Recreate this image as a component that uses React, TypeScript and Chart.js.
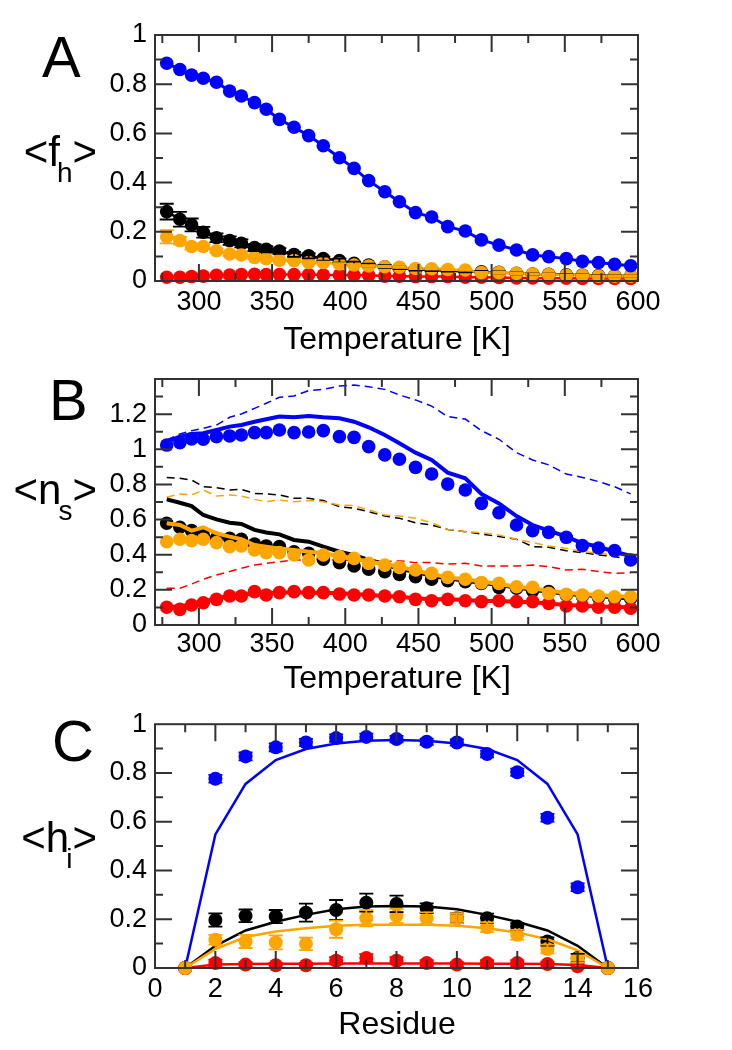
import React, { useEffect, useRef } from 'react';
import { Chart, registerables } from 'chart.js';

Chart.register(...registerables);

// ---------------- DATA ----------------
const TEMPS = [278, 287, 295, 303, 312, 321, 329, 338, 346, 355, 365, 375, 385, 396, 406, 416, 427, 437, 448, 459, 470, 482, 493, 505, 517, 528, 539, 551, 562, 573, 584, 595];

// Panel A: <f_h>
const A_BLUE = [0.885, 0.860, 0.837, 0.824, 0.808, 0.772, 0.752, 0.725, 0.698, 0.657, 0.625, 0.591, 0.550, 0.501, 0.458, 0.408, 0.363, 0.322, 0.278, 0.260, 0.221, 0.203, 0.167, 0.146, 0.126, 0.106, 0.099, 0.091, 0.080, 0.075, 0.068, 0.062];
const A_BLACK = [0.282, 0.251, 0.228, 0.198, 0.176, 0.164, 0.153, 0.136, 0.129, 0.122, 0.108, 0.102, 0.091, 0.083, 0.072, 0.065, 0.058, 0.053, 0.047, 0.045, 0.042, 0.039, 0.037, 0.035, 0.031, 0.028, 0.027, 0.025, 0.024, 0.022, 0.021, 0.020];
const A_BLACK_ERR = [0.032, 0.030, 0.026, 0.022, 0.018, 0.017, 0.016, 0.014, 0.013, 0.012, 0.010, 0.010, 0.008, 0.008, 0.007, 0.006, 0.006, 0.005, 0.005, 0.005, 0.004, 0.004, 0.004, 0.004, 0.004, 0.004, 0.003, 0.003, 0.003, 0.003, 0.003, 0.003];
const A_ORANGE = [0.180, 0.164, 0.140, 0.140, 0.123, 0.110, 0.106, 0.096, 0.091, 0.085, 0.083, 0.075, 0.075, 0.069, 0.065, 0.061, 0.058, 0.056, 0.051, 0.050, 0.047, 0.045, 0.034, 0.034, 0.031, 0.028, 0.026, 0.023, 0.023, 0.020, 0.020, 0.020];
const A_ORANGE_ERR = [0.027, 0.015, 0.012, 0.010, 0.008, 0.007, 0.006, 0.006, 0.005, 0.005, 0.005, 0.004, 0.004, 0.004, 0.004, 0.003, 0.003, 0.003, 0.003, 0.003, 0.003, 0.003, 0.003, 0.003, 0.003, 0.003, 0.003, 0.003, 0.003, 0.003, 0.003, 0.003];
const A_RED = [0.015, 0.015, 0.018, 0.020, 0.023, 0.024, 0.026, 0.027, 0.026, 0.026, 0.026, 0.026, 0.024, 0.024, 0.023, 0.023, 0.020, 0.020, 0.018, 0.018, 0.018, 0.015, 0.015, 0.014, 0.012, 0.012, 0.011, 0.011, 0.010, 0.010, 0.010, 0.010];

// Panel B: <n_s>
const B_BLUE_PTS = [1.024, 1.038, 1.059, 1.057, 1.072, 1.076, 1.081, 1.095, 1.095, 1.110, 1.095, 1.098, 1.106, 1.072, 1.068, 1.015, 0.968, 0.943, 0.897, 0.859, 0.802, 0.768, 0.692, 0.639, 0.569, 0.537, 0.527, 0.499, 0.452, 0.438, 0.423, 0.370];
const B_BLUE_SOLID = [1.043, 1.072, 1.087, 1.091, 1.110, 1.129, 1.138, 1.157, 1.171, 1.186, 1.182, 1.190, 1.182, 1.176, 1.157, 1.125, 1.081, 1.034, 0.981, 0.939, 0.867, 0.835, 0.746, 0.692, 0.620, 0.569, 0.537, 0.503, 0.465, 0.446, 0.417, 0.393];
const B_BLUE_DASH = [1.053, 1.087, 1.106, 1.119, 1.138, 1.182, 1.201, 1.233, 1.262, 1.296, 1.303, 1.334, 1.341, 1.360, 1.366, 1.356, 1.341, 1.309, 1.281, 1.246, 1.186, 1.172, 1.106, 1.057, 0.981, 0.939, 0.911, 0.859, 0.840, 0.816, 0.787, 0.746];
const B_BLACK_PTS = [0.579, 0.556, 0.537, 0.512, 0.493, 0.493, 0.488, 0.461, 0.450, 0.446, 0.417, 0.408, 0.374, 0.355, 0.336, 0.317, 0.304, 0.288, 0.275, 0.260, 0.252, 0.247, 0.237, 0.214, 0.209, 0.195, 0.190, 0.171, 0.165, 0.157, 0.152, 0.152];
const B_BLACK_SOLID = [0.715, 0.696, 0.677, 0.626, 0.601, 0.582, 0.575, 0.541, 0.526, 0.516, 0.484, 0.474, 0.446, 0.417, 0.398, 0.370, 0.347, 0.317, 0.304, 0.279, 0.266, 0.252, 0.241, 0.228, 0.214, 0.199, 0.190, 0.176, 0.171, 0.165, 0.157, 0.152];
const B_BLACK_DASH = [0.840, 0.835, 0.825, 0.787, 0.782, 0.768, 0.772, 0.749, 0.746, 0.740, 0.721, 0.721, 0.708, 0.673, 0.664, 0.645, 0.620, 0.607, 0.582, 0.569, 0.544, 0.531, 0.518, 0.503, 0.488, 0.446, 0.442, 0.423, 0.412, 0.398, 0.389, 0.374];
const B_ORANGE_PTS = [0.474, 0.488, 0.480, 0.488, 0.469, 0.446, 0.450, 0.427, 0.412, 0.412, 0.398, 0.370, 0.398, 0.389, 0.379, 0.351, 0.341, 0.328, 0.313, 0.294, 0.271, 0.260, 0.241, 0.237, 0.218, 0.214, 0.180, 0.175, 0.171, 0.165, 0.161, 0.161];
const B_ORANGE_SOLID = [0.579, 0.569, 0.537, 0.556, 0.522, 0.503, 0.488, 0.455, 0.446, 0.436, 0.427, 0.417, 0.408, 0.393, 0.379, 0.360, 0.347, 0.332, 0.309, 0.290, 0.271, 0.260, 0.247, 0.233, 0.218, 0.209, 0.195, 0.184, 0.176, 0.171, 0.165, 0.161];
const B_ORANGE_DASH = [0.727, 0.746, 0.740, 0.768, 0.734, 0.740, 0.734, 0.715, 0.702, 0.711, 0.702, 0.708, 0.702, 0.683, 0.679, 0.655, 0.626, 0.620, 0.607, 0.582, 0.544, 0.531, 0.526, 0.512, 0.488, 0.469, 0.450, 0.436, 0.417, 0.408, 0.398, 0.385];
const B_RED_PTS = [0.101, 0.089, 0.114, 0.127, 0.146, 0.165, 0.165, 0.190, 0.171, 0.184, 0.190, 0.184, 0.184, 0.176, 0.171, 0.171, 0.165, 0.161, 0.146, 0.138, 0.146, 0.138, 0.133, 0.138, 0.133, 0.133, 0.123, 0.108, 0.108, 0.101, 0.101, 0.095];
const B_RED_SOLID = [0.104, 0.104, 0.120, 0.133, 0.152, 0.165, 0.171, 0.180, 0.180, 0.184, 0.186, 0.184, 0.184, 0.180, 0.176, 0.171, 0.165, 0.161, 0.152, 0.146, 0.146, 0.142, 0.137, 0.137, 0.133, 0.129, 0.123, 0.114, 0.110, 0.104, 0.104, 0.099];
const B_RED_DASH = [0.209, 0.209, 0.233, 0.260, 0.285, 0.304, 0.323, 0.341, 0.351, 0.360, 0.370, 0.370, 0.370, 0.370, 0.366, 0.360, 0.360, 0.366, 0.355, 0.355, 0.347, 0.351, 0.336, 0.336, 0.336, 0.341, 0.332, 0.313, 0.317, 0.304, 0.294, 0.298];

// Panel C: <h_i>
const RESIDUES = [1, 2, 3, 4, 5, 6, 7, 8, 9, 10, 11, 12, 13, 14, 15];
const C_BLUE_PTS = [0, 0.776, 0.868, 0.905, 0.925, 0.943, 0.948, 0.939, 0.928, 0.925, 0.878, 0.803, 0.616, 0.331, 0];
const C_BLUE_ERR = [0, 0.016, 0.016, 0.016, 0.015, 0.015, 0.013, 0.013, 0.013, 0.013, 0.014, 0.015, 0.016, 0.016, 0];
const C_BLUE_LINE = [0, 0.548, 0.755, 0.853, 0.898, 0.921, 0.932, 0.935, 0.932, 0.921, 0.898, 0.853, 0.755, 0.548, 0];
const C_BLACK_PTS = [0, 0.197, 0.214, 0.211, 0.227, 0.238, 0.268, 0.263, 0.245, 0.204, 0.204, 0.170, 0.109, 0.041, 0];
const C_BLACK_ERR = [0, 0.027, 0.026, 0.027, 0.037, 0.041, 0.037, 0.034, 0.020, 0.020, 0.019, 0.014, 0.017, 0.017, 0];
const C_BLACK_LINE = [0, 0.091, 0.154, 0.190, 0.218, 0.241, 0.252, 0.254, 0.252, 0.241, 0.218, 0.190, 0.154, 0.091, 0];
const C_ORANGE_PTS = [0, 0.116, 0.109, 0.105, 0.099, 0.159, 0.204, 0.214, 0.204, 0.204, 0.167, 0.136, 0.078, 0.037, 0];
const C_ORANGE_ERR = [0, 0.020, 0.027, 0.029, 0.026, 0.035, 0.033, 0.029, 0.024, 0.020, 0.020, 0.020, 0.018, 0.014, 0];
const C_ORANGE_LINE = [0, 0.078, 0.127, 0.150, 0.163, 0.173, 0.177, 0.177, 0.177, 0.173, 0.163, 0.146, 0.118, 0.072, 0];
const C_RED_PTS = [0, 0.020, 0.014, 0.011, 0.011, 0.030, 0.041, 0.030, 0.020, 0.014, 0.020, 0.020, 0.016, 0.007, 0];
const C_RED_ERR = [0, 0.014, 0.010, 0.010, 0.010, 0.015, 0.016, 0.014, 0.012, 0.010, 0.012, 0.012, 0.010, 0.008, 0];
const C_RED_LINE = [0, 0.014, 0.016, 0.017, 0.017, 0.018, 0.018, 0.018, 0.018, 0.018, 0.017, 0.017, 0.016, 0.012, 0];

// Tick labels
const X_TICKS_T = [300, 350, 400, 450, 500, 550, 600];
const X_TICKS_RES = [0, 2, 4, 6, 8, 10, 12, 14, 16];
const Y_TICKS_1 = [0, 0.2, 0.4, 0.6, 0.8, 1];
const Y_TICKS_B = [0, 0.2, 0.4, 0.6, 0.8, 1, 1.2];

// ---------------- STYLE ----------------
const FONT = '"Liberation Sans", Arial, Helvetica, sans-serif';
const BLUE = '#0000ff';
const BLACK = '#000000';
const ORANGE = '#ffa500';
const RED = '#ff0000';
const FRAME = '#333333';

const pts = (xs: number[], ys: number[]) => xs.map((x, i) => ({ x, y: ys[i] }));

const dots = (xs: number[], ys: number[], color: string, r: number, lineW = 0, errors?: number[]) => ({
  data: pts(xs, ys),
  showLine: lineW > 0,
  borderColor: color,
  borderWidth: lineW,
  backgroundColor: color,
  pointBackgroundColor: color,
  pointBorderColor: color,
  pointBorderWidth: 0,
  pointRadius: r,
  pointHoverRadius: r,
  tension: 0,
  clip: false,
  errors,
  errorColor: color,
});

const line = (xs: number[], ys: number[], color: string, w: number, dash?: number[]) => ({
  data: pts(xs, ys),
  showLine: true,
  borderColor: color,
  backgroundColor: color,
  borderWidth: w,
  borderDash: dash || [],
  pointRadius: 0,
  pointHoverRadius: 0,
  tension: 0,
  clip: false,
});

const framePlugin = {
  id: 'frame',
  afterDatasetsDraw(chart: any, _args: any, opts: any) {
    const { ctx, chartArea, scales } = chart;
    const { left, right, top, bottom } = chartArea;
    const x = scales.x;
    const y = scales.y;
    // error bars
    chart.data.datasets.forEach((ds: any) => {
      if (!ds.errors) return;
      ctx.save();
      ctx.strokeStyle = ds.errorColor;
      ctx.lineWidth = 1.8;
      const cap = opts.cap || 7;
      ds.data.forEach((p: any, j: number) => {
        const e = ds.errors[j];
        if (!e) return;
        const px = x.getPixelForValue(p.x);
        const y1 = y.getPixelForValue(p.y + e);
        const y2 = y.getPixelForValue(p.y - e);
        ctx.beginPath();
        ctx.moveTo(px, y1); ctx.lineTo(px, y2);
        ctx.moveTo(px - cap, y1); ctx.lineTo(px + cap, y1);
        ctx.moveTo(px - cap, y2); ctx.lineTo(px + cap, y2);
        ctx.stroke();
      });
      ctx.restore();
    });
    // ticks (inward, mirrored)
    ctx.save();
    ctx.strokeStyle = FRAME;
    ctx.lineWidth = 2;
    ctx.beginPath();
    const drawAxisTicks = (scale: any, minor: number, major: number, horizontal: boolean) => {
      const start = Math.ceil(scale.min / minor - 1e-9);
      const end = Math.floor(scale.max / minor + 1e-9);
      for (let n = start; n <= end; n++) {
        const v = n * minor;
        const isMajor = Math.abs(v / major - Math.round(v / major)) < 1e-6;
        const len = isMajor ? 17 : 8;
        const p = scale.getPixelForValue(v);
        if (horizontal) {
          if (p < left + 1 || p > right - 1) continue;
          ctx.moveTo(p, bottom); ctx.lineTo(p, bottom - len);
          ctx.moveTo(p, top); ctx.lineTo(p, top + len);
        } else {
          if (p < top + 1 || p > bottom - 1) continue;
          ctx.moveTo(left, p); ctx.lineTo(left + len, p);
          ctx.moveTo(right, p); ctx.lineTo(right - len, p);
        }
      }
    };
    drawAxisTicks(x, opts.xMinor, opts.xMajor, true);
    drawAxisTicks(y, opts.yMinor, opts.yMajor, false);
    ctx.stroke();
    ctx.strokeRect(left, top, right - left, bottom - top);
    ctx.restore();
  },
};

type PanelSpec = {
  datasets: any[];
  xMin: number; xMax: number; xTicks: number[];
  yMin: number; yMax: number; yTicks: number[];
  padTop: number; xHeight: number; xPad: number;
  xMinor: number; xMajor: number; yMinor: number; yMajor: number;
};

const makeConfig = (s: PanelSpec): any => {
  const n = s.datasets.length;
  const datasets = s.datasets.map((d, i) => ({ ...d, order: n - i }));
  return {
    type: 'scatter',
    data: { datasets },
    plugins: [framePlugin],
    options: {
      animation: false,
      responsive: false,
      events: [],
      layout: { padding: { left: 0, right: 94, top: s.padTop, bottom: 0 } },
      plugins: {
        legend: { display: false },
        tooltip: { enabled: false },
        frame: { xMinor: s.xMinor, xMajor: s.xMajor, yMinor: s.yMinor, yMajor: s.yMajor, cap: 7 },
      },
      scales: {
        x: {
          type: 'linear',
          min: s.xMin,
          max: s.xMax,
          grid: { display: false, drawTicks: false },
          border: { display: false },
          afterBuildTicks: (sc: any) => { sc.ticks = s.xTicks.map((v) => ({ value: v })); },
          afterFit: (sc: any) => { sc.height = s.xHeight; },
          ticks: {
            autoSkip: false,
            maxRotation: 0,
            minRotation: 0,
            padding: s.xPad,
            color: '#000',
            font: { family: FONT, size: 27 },
            callback: (v: any) => String(v),
          },
        },
        y: {
          type: 'linear',
          min: s.yMin,
          max: s.yMax,
          grid: { display: false, drawTicks: false },
          border: { display: false },
          afterBuildTicks: (sc: any) => { sc.ticks = s.yTicks.map((v) => ({ value: v })); },
          afterFit: (sc: any) => { sc.width = 155; },
          ticks: {
            autoSkip: false,
            padding: 8,
            color: '#000',
            font: { family: FONT, size: 27 },
            callback: (v: any) => String(v),
          },
        },
      },
    },
  };
};

const R = 6.8;

const panelA = (): any => makeConfig({
  datasets: [
    dots(TEMPS, A_BLACK, BLACK, R, 2.5, A_BLACK_ERR),
    dots(TEMPS, A_RED, RED, R, 2.5),
    dots(TEMPS, A_ORANGE, ORANGE, R, 2.5, A_ORANGE_ERR),
    dots(TEMPS, A_BLUE, BLUE, R, 3),
  ],
  xMin: 270, xMax: 600, xTicks: X_TICKS_T,
  yMin: 0, yMax: 1, yTicks: Y_TICKS_1,
  padTop: 35, xHeight: 64, xPad: 5,
  xMinor: 25, xMajor: 50, yMinor: 0.1, yMajor: 0.2,
});

const panelB = (): any => makeConfig({
  datasets: [
    line(TEMPS, B_RED_DASH, RED, 1.5, [8, 5]),
    line(TEMPS, B_BLACK_DASH, BLACK, 1.5, [8, 5]),
    line(TEMPS, B_ORANGE_DASH, ORANGE, 1.5, [8, 5]),
    line(TEMPS, B_BLUE_DASH, BLUE, 1.5, [8, 5]),
    line(TEMPS, B_BLACK_SOLID, BLACK, 4),
    dots(TEMPS, B_BLACK_PTS, BLACK, R),
    line(TEMPS, B_RED_SOLID, RED, 4),
    dots(TEMPS, B_RED_PTS, RED, R),
    line(TEMPS, B_ORANGE_SOLID, ORANGE, 4),
    dots(TEMPS, B_ORANGE_PTS, ORANGE, R),
    line(TEMPS, B_BLUE_SOLID, BLUE, 4),
    dots(TEMPS, B_BLUE_PTS, BLUE, R),
  ],
  xMin: 270, xMax: 600, xTicks: X_TICKS_T,
  yMin: 0, yMax: 1.4, yTicks: Y_TICKS_B,
  padTop: 34, xHeight: 75, xPad: 3,
  xMinor: 25, xMajor: 50, yMinor: 0.1, yMajor: 0.2,
});

const panelC = (): any => makeConfig({
  datasets: [
    line(RESIDUES, C_BLACK_LINE, BLACK, 2.5),
    dots(RESIDUES, C_BLACK_PTS, BLACK, 7, 0, C_BLACK_ERR),
    line(RESIDUES, C_BLUE_LINE, BLUE, 2.5),
    dots(RESIDUES, C_BLUE_PTS, BLUE, 7, 0, C_BLUE_ERR),
    dots(RESIDUES, C_RED_PTS, RED, 7, 0, C_RED_ERR),
    line(RESIDUES, C_RED_LINE, RED, 2.5),
    line(RESIDUES, C_ORANGE_LINE, ORANGE, 2.5),
    dots(RESIDUES, C_ORANGE_PTS, ORANGE, 7, 0, C_ORANGE_ERR),
  ],
  xMin: 0, xMax: 16, xTicks: X_TICKS_RES,
  yMin: 0, yMax: 1, yTicks: Y_TICKS_1,
  padTop: 23, xHeight: 82, xPad: 5,
  xMinor: 1, xMajor: 2, yMinor: 0.1, yMajor: 0.2,
});

function ChartCanvas({ top, height, build }: { top: number; height: number; build: () => any }) {
  const ref = useRef<HTMLCanvasElement | null>(null);
  useEffect(() => {
    if (!ref.current) return;
    const chart = new Chart(ref.current, build());
    return () => chart.destroy();
  }, []);
  return (
    <canvas
      ref={ref}
      width={732}
      height={height}
      style={{ position: 'absolute', left: 0, top, width: 732, height, display: 'block' }}
    />
  );
}

const textBase: React.CSSProperties = {
  position: 'absolute',
  fontFamily: FONT,
  color: '#000',
  lineHeight: 1,
  whiteSpace: 'nowrap',
  zIndex: 2,
};

function Letter({ text, left, baseline }: { text: string; left: number; baseline: number }) {
  const fs = 58;
  return <div style={{ ...textBase, fontSize: fs, left, top: baseline - 0.8465 * fs }}>{text}</div>;
}

function YTitle({ main, sub, baseline }: { main: string; sub: string; baseline: number }) {
  const fs = 42;
  return (
    <div style={{ ...textBase, fontSize: fs, left: 0, width: 97, textAlign: 'right', top: baseline - 0.8465 * fs }}>
      {'<' + main}
      <span style={{ fontSize: 28, position: 'relative', top: 16, marginLeft: -3 }}>{sub}</span>
      {'>'}
    </div>
  );
}

function XTitle({ text, baseline }: { text: string; baseline: number }) {
  const fs = 32;
  return (
    <div style={{ ...textBase, fontSize: fs, left: 197, width: 400, textAlign: 'center', top: baseline - 0.8465 * fs }}>
      {text}
    </div>
  );
}

export default function App() {
  return (
    <div style={{ position: 'absolute', left: 0, top: 0, width: 732, height: 1050, background: '#fff', overflow: 'hidden' }}>
      <ChartCanvas top={0} height={345} build={panelA} />
      <ChartCanvas top={345} height={355} build={panelB} />
      <ChartCanvas top={700} height={350} build={panelC} />
      <Letter text="A" left={42} baseline={77} />
      <Letter text="B" left={49} baseline={420} />
      <Letter text="C" left={52} baseline={761} />
      <YTitle main="f" sub="h" baseline={167} />
      <YTitle main="n" sub="s" baseline={505} />
      <YTitle main="h" sub="i" baseline={853} />
      <XTitle text="Temperature [K]" baseline={349} />
      <XTitle text="Temperature [K]" baseline={688} />
      <XTitle text="Residue" baseline={1034} />
    </div>
  );
}
